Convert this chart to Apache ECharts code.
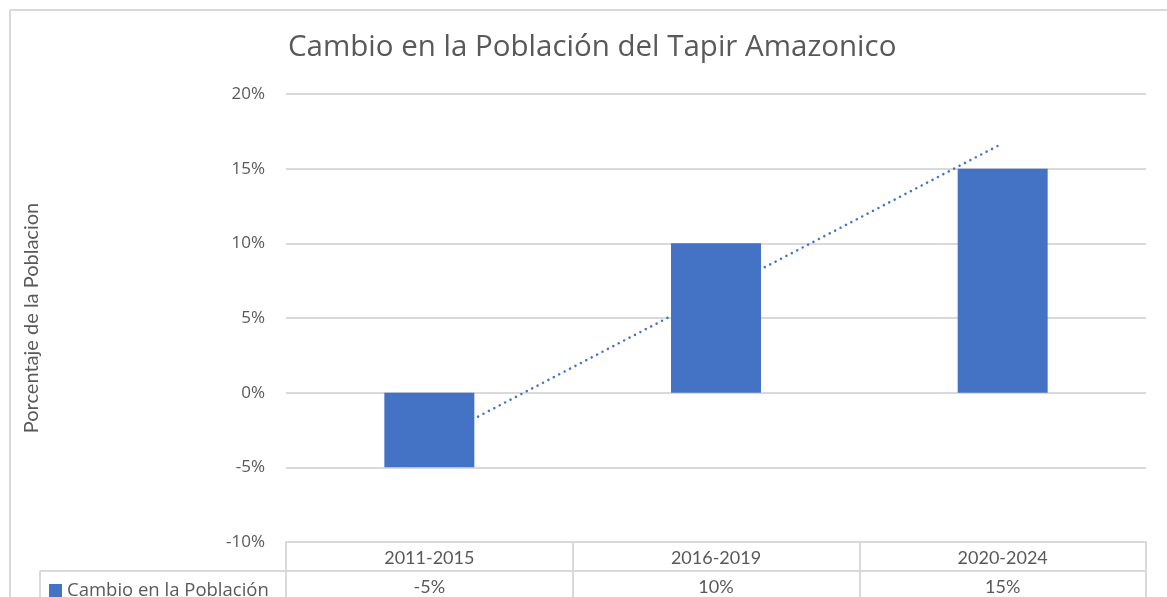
<!DOCTYPE html>
<html lang="es">
<head>
    <meta charset="UTF-8">
    <title>Cambio en la Población del Tapir Amazonico</title>
    <style>
        * { margin: 0; padding: 0; }
        body { background: #ffffff; }
        #chart-container { width: 1167px; height: 597px; }
    </style>
</head>
<body>
    <div id="chart-container"></div>
    <script src="https://cdn.jsdelivr.net/npm/echarts@6.0.0/dist/echarts.min.js"></script>
    <script>
        // datos del grafico
        var periodos = ['2011-2015', '2016-2019', '2020-2024'];
        var cambio = [-5, 10, 15];
        // linea de tendencia
        var tendencia = [-3.3, 6.7, 16.7];
        var ticksY = [-10, 20, 5];

        var gris = '#595959';
        var borde = '#d9d9d9';
        var fuente = 'Lato, "Open Sans", sans-serif';

        var dom = document.getElementById('chart-container');
        var myChart = echarts.init(dom, null, { renderer: 'canvas' });

        var option = {
            animation: false,
            title: {
                text: 'Cambio en la Población del Tapir Amazonico',
                left: 283,
                top: 28,
                textStyle: { fontFamily: '"Open Sans", sans-serif', fontSize: 29.5, fontWeight: 'normal', color: gris }
            },
            legend: {
                data: ['Cambio en la Población'],
                left: 44,
                top: 576,
                icon: 'rect',
                itemWidth: 13,
                itemHeight: 13,
                itemGap: 5,
                textStyle: { fontFamily: '"Open Sans", sans-serif', fontSize: 18.5, color: gris }
            },
            grid: { left: 286, right: 21, top: 94, bottom: 55 },
            xAxis: [
                {
                    type: 'category',
                    data: periodos,
                    position: 'bottom',
                    axisLine: { onZero: false, lineStyle: { color: borde, width: 2 } },
                    axisTick: { show: true, alignWithLabel: false, length: 56, lineStyle: { color: borde, width: 2 } },
                    axisLabel: { margin: 7, fontFamily: fuente, fontSize: 18, color: gris }
                },
                {
                    type: 'category',
                    data: periodos,
                    position: 'bottom',
                    offset: 29,
                    axisLine: { show: true, onZero: false, lineStyle: { color: borde, width: 2 } },
                    axisTick: { show: false },
                    axisLabel: {
                        margin: 7,
                        fontFamily: fuente,
                        fontSize: 18,
                        color: gris,
                        formatter: function (v, i) { return cambio[i] + '%'; }
                    }
                }
            ],
            yAxis: {
                type: 'value',
                min: ticksY[0],
                max: ticksY[1],
                interval: ticksY[2],
                name: 'Porcentaje de la Poblacion',
                nameLocation: 'middle',
                nameGap: 244,
                nameTextStyle: { fontFamily: fuente, fontSize: 20, color: gris },
                axisLine: { show: false },
                axisTick: { show: false },
                axisLabel: { formatter: '{value}%', margin: 21, fontFamily: '"Open Sans", sans-serif', fontSize: 17, color: gris },
                splitLine: { lineStyle: { color: borde, width: 2 } }
            },
            series: [
                {
                    name: 'Tendencia',
                    type: 'line',
                    data: tendencia,
                    showSymbol: false,
                    z: 1,
                    lineStyle: { color: '#4472c4', width: 2.5, type: [0.1, 6], cap: 'round' },
                    silent: true
                },
                {
                    name: 'Cambio en la Población',
                    type: 'bar',
                    data: cambio,
                    barWidth: 90,
                    z: 2,
                    itemStyle: { color: '#4472c4' }
                }
            ],
            graphic: [
                { type: 'line', shape: { x1: 10, y1: 10, x2: 1167, y2: 10 }, style: { stroke: borde, lineWidth: 2 } },
                { type: 'line', shape: { x1: 10, y1: 10, x2: 10, y2: 597 }, style: { stroke: borde, lineWidth: 2 } },
                { type: 'line', shape: { x1: 40, y1: 571, x2: 286, y2: 571 }, style: { stroke: borde, lineWidth: 2 } },
                { type: 'line', shape: { x1: 40, y1: 571, x2: 40, y2: 597 }, style: { stroke: borde, lineWidth: 2 } }
            ]
        };

        myChart.setOption(option);
        window.addEventListener('resize', myChart.resize);
    </script>
</body>
</html>
